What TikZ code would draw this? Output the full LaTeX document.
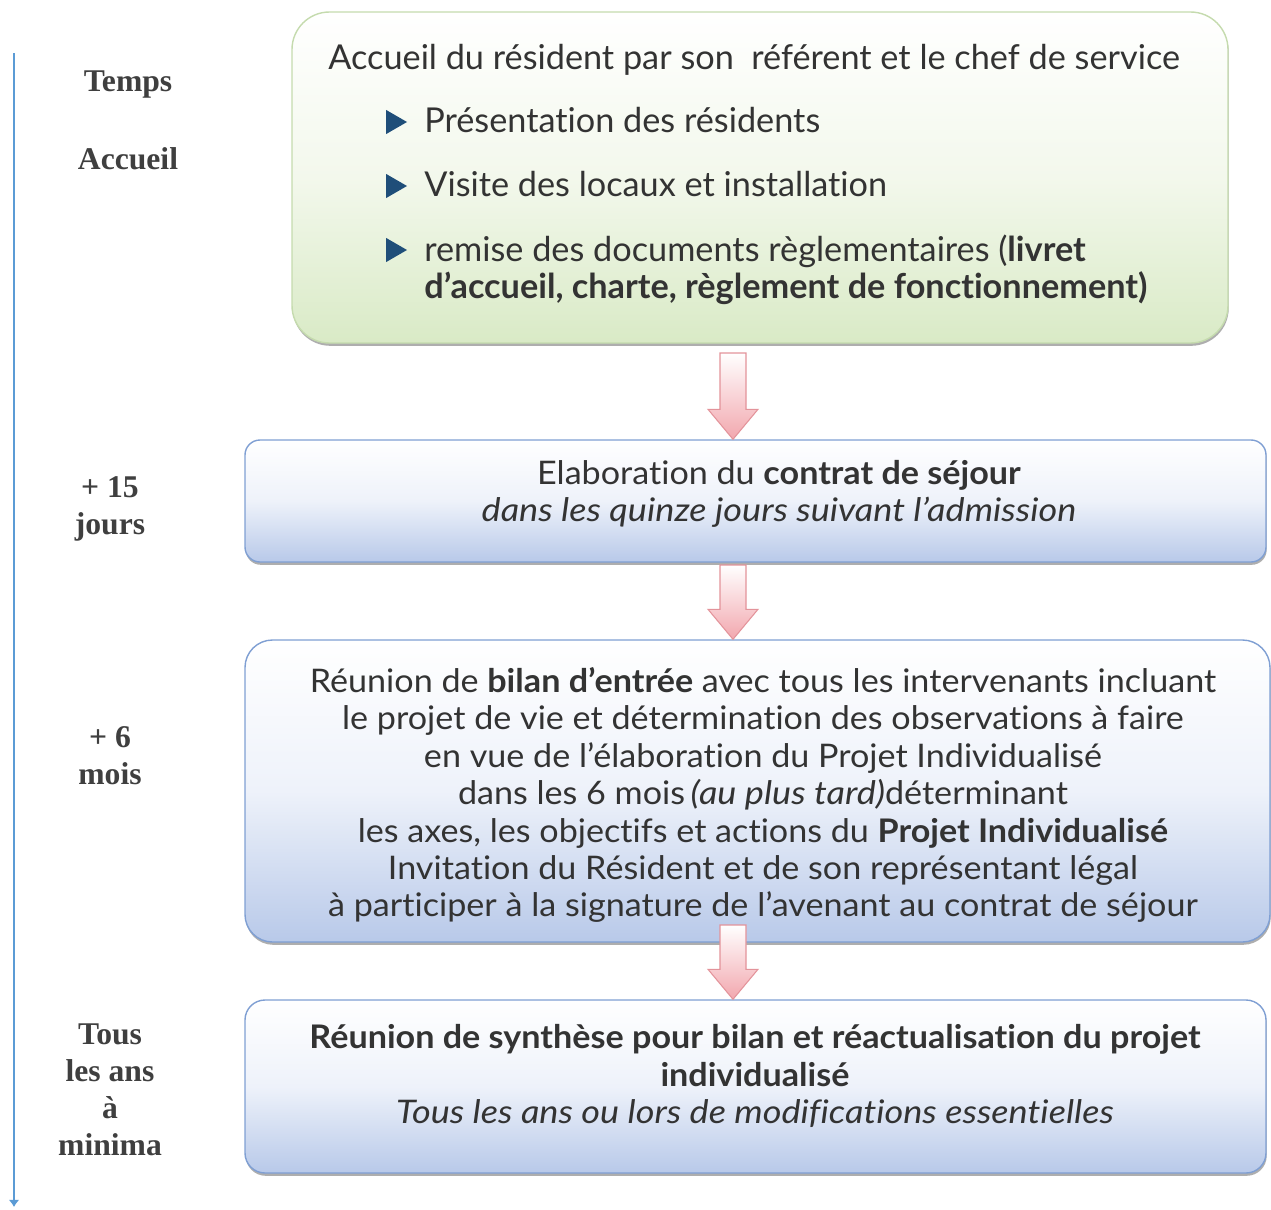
\documentclass[tikz,border=0pt]{standalone}
\usepackage{fontspec}
\setmainfont{Lato}[Ligatures=NoCommon]
\newfontfamily\corpsfont{Lato}[Ligatures=NoCommon, FakeStretch=1.05, ItalicFeatures={FakeStretch=1.11}]
\newfontfamily\temps{Liberation Serif}
\usetikzlibrary{calc,fit,shadows,shapes.geometric,arrows.meta}
\definecolor{gristexte}{HTML}{333333}
\definecolor{grisgauche}{HTML}{3F3F3F}
\definecolor{bleuaxe}{HTML}{5B9BD5}
\definecolor{vertfond}{HTML}{D9EAC6}
\definecolor{vertmilieu}{HTML}{F3F8EC}
\definecolor{vertbord}{HTML}{C5DBAE}
\definecolor{bleufond}{HTML}{B8C9E9}
\definecolor{bleumilieu}{HTML}{EEF2FA}
\definecolor{bleubord}{HTML}{7F9FD3}
\definecolor{rosefond}{HTML}{F2A7AE}
\definecolor{rosebord}{HTML}{E3939A}
\definecolor{bleupuce}{HTML}{1F4E79}
\newcommand{\fleche}[2]{%
\path[fleche] ($(#1)+(-13,0)$) -- ($(#1)+(13,0)$) -- ($(#2)+(13,-30)$) -- ($(#2)+(25,-30)$)
  -- (#2) -- ($(#2)+(-25,-30)$) -- ($(#2)+(-13,-30)$) -- cycle;}

\begin{document}
\begin{tikzpicture}[x=0.02cm,y=-0.02cm]
\tikzstyle{boite}=[rounded corners=0.3cm, inner sep=0pt, line width=0.8pt, drop shadow={shadow xshift=0.4pt,shadow yshift=-1.6pt,opacity=0.45,fill=black!70}]
\tikzstyle{verte}=[boite, draw=vertbord, top color=white, bottom color=vertfond, middle color=vertmilieu]
\tikzstyle{bleue}=[boite, draw=bleubord, top color=white, bottom color=bleufond, middle color=bleumilieu]
\tikzstyle{texte}=[text=gristexte, inner sep=0pt, font=\fontsize{19.5}{23}\selectfont]
\tikzstyle{corps}=[texte, align=center, font=\corpsfont\fontsize{18.5}{21.3}\selectfont]
\tikzstyle{temps}=[text=grisgauche, align=center, inner sep=0pt, font=\temps\bfseries\fontsize{18}{21}\selectfont]
\tikzstyle{puce}=[isosceles triangle, isosceles triangle apex angle=60, fill=bleupuce, inner sep=0pt, minimum size=0.42cm]
\tikzstyle{fleche}=[draw=rosebord, line width=0.6pt, top color=white, bottom color=rosefond, line join=miter]
\tikzstyle{axe}=[draw=bleuaxe, line width=1.2pt, -{Latex[length=4pt,width=6pt]}]
\useasboundingbox (0,0) rectangle (1271,1210);

\node[verte, rounded corners=0.75cm, fit={(292,12) (1228,343)}] (accueil) {};
\node[bleue, fit={(245,440) (1266,562)}] (sejour) {};
\node[bleue, rounded corners=0.55cm, fit={(245,640) (1270,942)}] (bilan) {};
\node[bleue, rounded corners=0.4cm, fit={(245,1000) (1266,1173)}] (synthese) {};

\node[texte, anchor=base west] (l1) at (328,69) {Accueil du résident par son\ \ référent et le chef de service};
\node[puce] (p1) at (393,122) {};
\node[texte, anchor=base west] (l2) at (424,132) {Présentation des résidents};
\node[puce] (p2) at (393,186) {};
\node[texte, anchor=base west] (l3) at (424,196) {Visite des locaux et installation};
\node[puce] (p3) at (393,250) {};
\node[texte, anchor=base west] (l4) at (424,261) {remise des documents règlementaires (\textbf{livret}};
\node[texte, anchor=base west] (l5) at (424,298) {\textbf{d’accueil, charte, règlement de fonctionnement)}};

\node[corps] (t2) at (779,494) {Elaboration du \textbf{contrat de séjour}\\\textit{dans les quinze jours suivant l’admission}};
\node[corps] (t3) at (763,795) {Réunion de \textbf{bilan d’entrée} avec tous les intervenants incluant\\
le projet de vie et détermination des observations à faire\\
en vue de l’élaboration du Projet Individualisé\\
dans les 6 mois\,\textit{(au plus tard)}déterminant\\
les axes, les objectifs et actions du \textbf{Projet Individualisé}\\
Invitation du Résident et de son représentant légal\\
à participer à la signature de l’avenant au contrat de séjour};
\node[corps] (t4) at (755,1076) {\textbf{Réunion de synthèse pour bilan et réactualisation du projet}\\
\textbf{individualisé}\\\textit{Tous les ans ou lors de modifications essentielles}};

\node[temps] (temps) at (128,85) {Temps};
\node[temps] (accueilg) at (128,159) {Accueil};
\node[temps] (quinze) at (110,509) {+ 15\\jours};
\node[temps] (six) at (110,756) {+ 6\\mois};
\node[temps] (ans) at (110,1090) {Tous\\les ans\\à\\minima};

\coordinate (haut) at (14,53);
\coordinate (bas) at (14,1207);
\draw[axe] (haut) -- (bas);

\coordinate (f1a) at (733,353);
\coordinate (f1b) at (f1a |- sejour.north);
\coordinate (f2a) at (733,565);
\coordinate (f2b) at (f2a |- bilan.north);
\coordinate (f3a) at (733,925);
\coordinate (f3b) at (f3a |- synthese.north);
\fleche{f1a}{f1b}
\fleche{f2a}{f2b}
\fleche{f3a}{f3b}
\end{tikzpicture}
\end{document}
